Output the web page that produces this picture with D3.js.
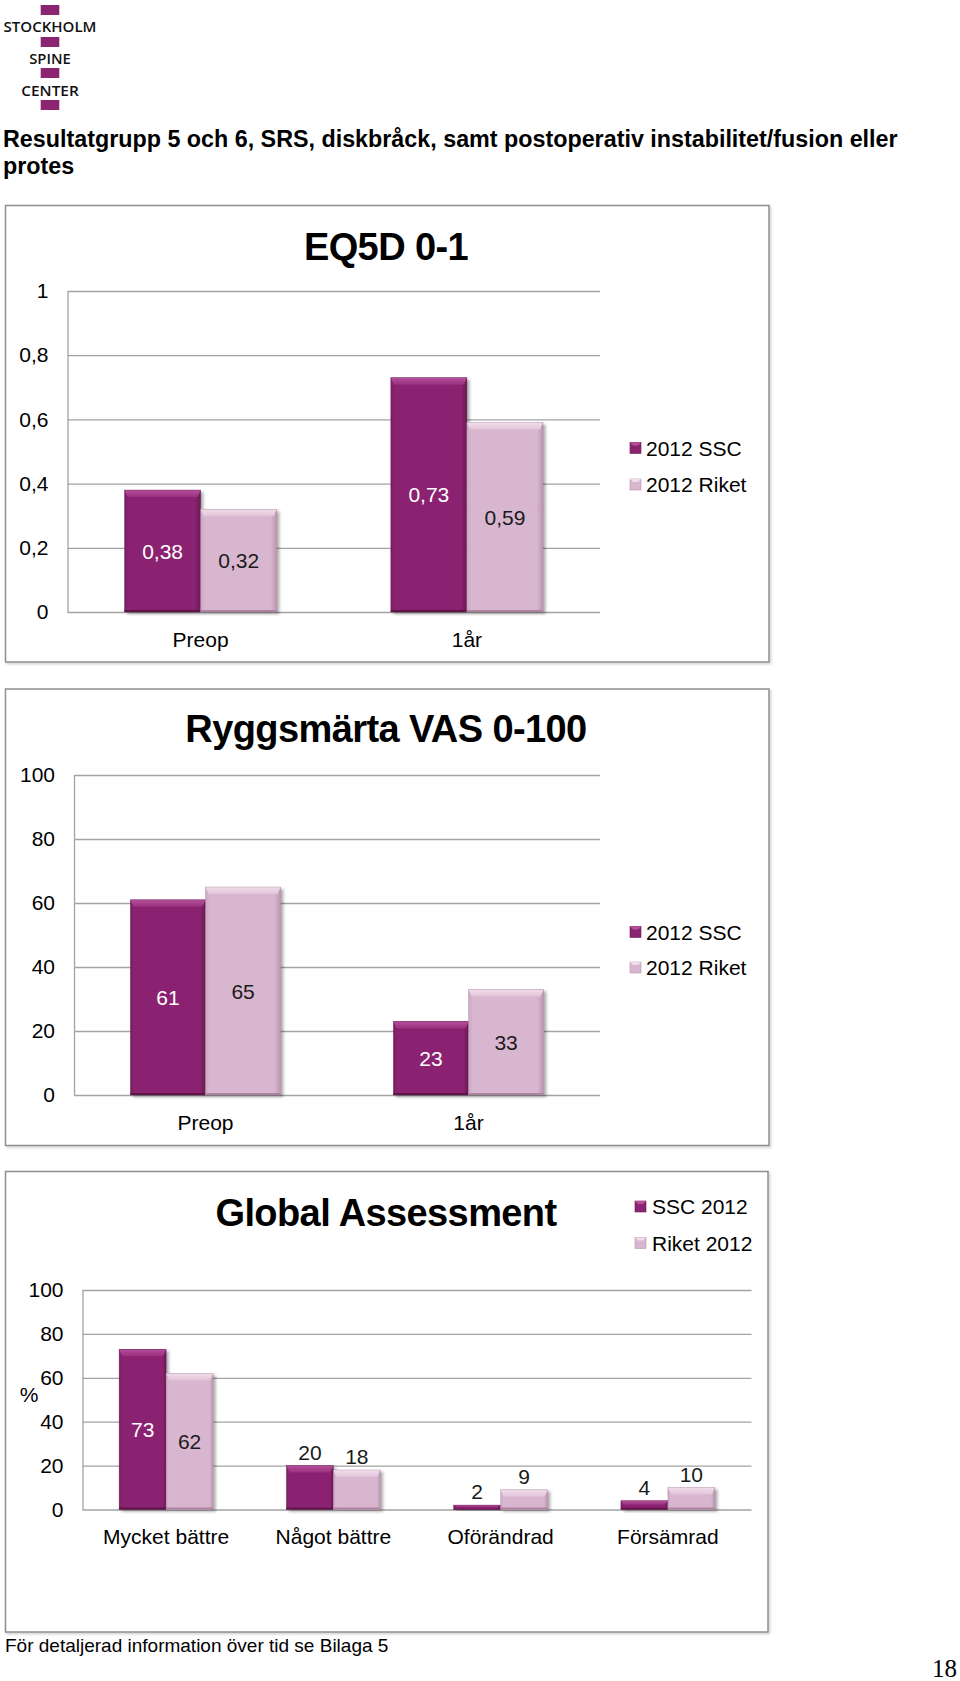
<!DOCTYPE html>
<html>
<head>
<meta charset="utf-8">
<script src="https://cdn.jsdelivr.net/npm/d3@7"></script>
<style>
  html, body { margin: 0; padding: 0; background: #fff; }
  svg { display: block; }
  text { font-family: "Liberation Sans", Arial, sans-serif; }
</style>
</head>
<body>
<svg id="page" width="960" height="1681"></svg>
<script>
// ---------- DATA ----------
const eqCategories = ["Preop", "1år"];
const eqSSC = [0.38, 0.73];
const eqRiket = [0.32, 0.59];
const eqTicks = [0, 0.2, 0.4, 0.6, 0.8, 1];

const vasCategories = ["Preop", "1år"];
const vasSSC = [61, 23];
const vasRiket = [65, 33];
const vasTicks = [0, 20, 40, 60, 80, 100];

const gaCategories = ["Mycket bättre", "Något bättre", "Oförändrad", "Försämrad"];
const gaSSC = [73, 20, 2, 4];
const gaRiket = [62, 18, 9, 10];
const gaTicks = [0, 20, 40, 60, 80, 100];

const seriesNamesA = ["2012 SSC", "2012 Riket"];
const seriesNamesB = ["SSC 2012", "Riket 2012"];

const logoWords = ["STOCKHOLM", "SPINE", "CENTER"];
const pageTitleLines = ["Resultatgrupp 5 och 6, SRS, diskbråck, samt postoperativ instabilitet/fusion eller", "protes"];
const footerText = "För detaljerad information över tid se Bilaga 5";
const pageNumber = "18";

// ---------- STYLE ----------
const COLORS = {
  ssc:   { base: "#8B2471", top: "#B5509A", topEnd: "#9A2F7E", side: "#7A1D62", right: "#691853", bottom: "#5E1449", label: "#ffffff" },
  riket: { base: "#D9B6CF", top: "#F0DDEA", topEnd: "#E2C4D9", side: "#CDA7C2", right: "#BC93B0", bottom: "#AD849F", label: "#1a1a1a" }
};
const GRID = "#a3a3a3";
const svg = d3.select("#page");

// drop shadow filter
const defs = svg.append("defs");
const f = defs.append("filter").attr("id", "shadow").attr("x", "-20%").attr("y", "-20%").attr("width", "150%").attr("height", "150%");
f.append("feDropShadow").attr("dx", 2.5).attr("dy", 2).attr("stdDeviation", 1.6).attr("flood-color", "#000").attr("flood-opacity", 0.35);
const fr = defs.append("filter").attr("id", "frameShadow").attr("x", "-5%").attr("y", "-5%").attr("width", "110%").attr("height", "110%");
fr.append("feDropShadow").attr("dx", 1.5).attr("dy", 1.5).attr("stdDeviation", 1).attr("flood-color", "#000").attr("flood-opacity", 0.18);

["ssc", "riket"].forEach(k => {
  const g = defs.append("linearGradient").attr("id", "top-" + k).attr("x1", 0).attr("y1", 0).attr("x2", 0).attr("y2", 1);
  g.append("stop").attr("offset", "0%").attr("stop-color", COLORS[k].top);
  g.append("stop").attr("offset", "100%").attr("stop-color", COLORS[k].topEnd);
  const h = defs.append("linearGradient").attr("id", "body-" + k).attr("x1", 0).attr("y1", 0).attr("x2", 1).attr("y2", 0);
  h.append("stop").attr("offset", "0%").attr("stop-color", COLORS[k].side);
  h.append("stop").attr("offset", "6%").attr("stop-color", COLORS[k].base);
  h.append("stop").attr("offset", "92%").attr("stop-color", COLORS[k].base);
  h.append("stop").attr("offset", "100%").attr("stop-color", COLORS[k].right);
});

// ---------- LOGO ----------
const logoRectY = [5, 37, 68, 100];
svg.selectAll("rect.logo").data(logoRectY).join("rect")
  .attr("class", "logo").attr("x", 40.7).attr("y", d => d).attr("width", 18.6).attr("height", 10)
  .attr("fill", "#8B2571");
const logoLayout = [{ base: 31.5, len: 93 }, { base: 63.8, len: 41.5 }, { base: 95.5, len: 57.5 }];
svg.selectAll("text.logo").data(logoWords).join("text")
  .attr("class", "logo")
  .attr("x", 50).attr("y", (d, i) => logoLayout[i].base)
  .attr("text-anchor", "middle")
  .attr("textLength", (d, i) => logoLayout[i].len).attr("lengthAdjust", "spacingAndGlyphs")
  .style("font-family", "'Open Sans', 'Noto Sans', sans-serif").style("font-weight", 600)
  .style("font-size", "15px").attr("fill", "#111")
  .text(d => d);

// ---------- PAGE TITLE ----------
svg.selectAll("text.ptitle").data(pageTitleLines).join("text")
  .attr("class", "ptitle")
  .attr("x", 3).attr("y", (d, i) => 146.5 + i * 27)
  .style("font-size", "23.3px").style("font-weight", "bold").attr("fill", "#000")
  .text(d => d);

// ---------- CHART FUNCTION ----------
function drawChart(cfg) {
  const g = svg.append("g");
  // frame
  g.append("rect")
    .attr("x", cfg.frame[0]).attr("y", cfg.frame[1])
    .attr("width", cfg.frame[2] - cfg.frame[0]).attr("height", cfg.frame[3] - cfg.frame[1])
    .attr("fill", "#fff").attr("stroke", "#8e8e8e").attr("stroke-width", 1.5)
    .attr("filter", "url(#frameShadow)");

  // title
  g.append("text")
    .attr("x", cfg.titleX).attr("y", cfg.titleY).attr("text-anchor", "middle")
    .style("font-size", "38px").style("font-weight", "bold").style("letter-spacing", "-0.6px")
    .attr("fill", "#000").text(cfg.title);

  const y = d3.scaleLinear().domain([0, cfg.max]).range([cfg.y0, cfg.y1]);
  const x = d3.scaleBand().domain(cfg.categories).range([cfg.x0, cfg.x1]).padding(0);
  const keys = ["ssc", "riket"];
  const xs = d3.scaleBand().domain(keys).range([0, x.bandwidth()]).paddingInner(0).paddingOuter(cfg.pad);

  // y axis + grid
  const yAxis = d3.axisLeft(y).tickValues(cfg.ticks)
    .tickSize(-(cfg.x1 - cfg.x0)).tickSizeOuter(0).tickPadding(19)
    .tickFormat(cfg.fmt);
  const ya = g.append("g").attr("transform", `translate(${cfg.x0},0)`).call(yAxis);
  ya.selectAll(".tick line").attr("stroke", GRID).attr("stroke-width", 1.3);
  ya.select(".domain").attr("stroke", GRID).attr("stroke-width", 1.3);
  ya.selectAll(".tick text").style("font-family", "'Liberation Sans', Arial, sans-serif")
    .style("font-size", "21px").attr("fill", "#000");

  // x axis labels
  const xAxis = d3.axisBottom(x).tickSize(0).tickPadding(20);
  const xa = g.append("g").attr("transform", `translate(0,${cfg.y0})`).call(xAxis);
  xa.select(".domain").remove();
  xa.selectAll(".tick text").style("font-family", "'Liberation Sans', Arial, sans-serif")
    .style("font-size", "21px").attr("fill", "#000");

  // bars
  const rows = [];
  cfg.categories.forEach((c, i) => {
    rows.push({ cat: c, key: "ssc", v: cfg.ssc[i] });
    rows.push({ cat: c, key: "riket", v: cfg.riket[i] });
  });
  const bars = g.selectAll("g.bar").data(rows).join("g").attr("class", "bar");
  bars.each(function (d) {
    const b = d3.select(this);
    const bx = x(d.cat) + xs(d.key);
    const bw = xs.bandwidth();
    const by = y(d.v);
    const bh = y(0) - y(d.v);
    const c = COLORS[d.key];
    b.append("rect").attr("x", bx).attr("y", by).attr("width", bw).attr("height", bh)
      .attr("fill", `url(#body-${d.key})`).attr("filter", "url(#shadow)");
    const tb = Math.min(7, bh * 0.45);
    const inset = Math.min(3, bw / 6);
    b.append("polygon")
      .attr("points", [[bx, by], [bx + bw, by], [bx + bw - inset, by + tb], [bx + inset, by + tb]].map(p => p.join(",")).join(" "))
      .attr("fill", `url(#top-${d.key})`);
    const bb = Math.min(2, bh * 0.2);
    b.append("rect").attr("x", bx).attr("y", by + bh - bb).attr("width", bw).attr("height", bb)
      .attr("fill", c.bottom);
    b.append("rect").attr("x", bx).attr("y", by).attr("width", bw).attr("height", bh)
      .attr("fill", "none").attr("stroke", c.bottom).attr("stroke-width", 0.6).attr("stroke-opacity", 0.6);
  });

  // value labels
  g.selectAll("text.val").data(rows).join("text")
    .attr("class", "val")
    .attr("x", d => x(d.cat) + xs(d.key) + xs.bandwidth() / 2)
    .attr("y", d => cfg.inside(d.v) ? (y(d.v) + y(0)) / 2 + 7.5 : y(d.v) - 6)
    .attr("text-anchor", "middle")
    .style("font-size", "21px")
    .attr("fill", d => cfg.inside(d.v) ? COLORS[d.key].label : "#1a1a1a")
    .text(d => cfg.fmt(d.v));

  // legend
  const lg = g.selectAll("g.leg").data(keys).join("g").attr("class", "leg");
  lg.append("rect")
    .attr("x", cfg.legSqX).attr("y", (d, i) => cfg.legY[i] - 13)
    .attr("width", 11).attr("height", 11)
    .attr("fill", d => COLORS[d].base).attr("stroke", d => COLORS[d].right).attr("stroke-width", 0.6);
  lg.append("polygon")
    .attr("points", (d, i) => {
      const x0 = cfg.legSqX, y0 = cfg.legY[i] - 13;
      return [[x0, y0], [x0 + 11, y0], [x0 + 8, y0 + 3], [x0 + 3, y0 + 3]].map(p => p.join(",")).join(" ");
    })
    .attr("fill", d => COLORS[d].top);
  lg.append("text")
    .attr("x", cfg.legTextX).attr("y", (d, i) => cfg.legY[i])
    .style("font-size", "21px").attr("fill", "#000")
    .text((d, i) => cfg.names[i]);

  if (cfg.yLabel) {
    g.append("text").attr("x", cfg.yLabel.x).attr("y", cfg.yLabel.y)
      .attr("text-anchor", "middle").style("font-size", "21px").attr("fill", "#000")
      .text(cfg.yLabel.text);
  }
}

const commaFmt = v => String(v).replace(".", ",");

drawChart({
  frame: [5.5, 205.5, 769, 662], title: "EQ5D 0-1", titleX: 386, titleY: 259.5,
  categories: eqCategories, ssc: eqSSC, riket: eqRiket, ticks: eqTicks, max: 1,
  x0: 67.5, x1: 600, y0: 612, y1: 291, pad: 0.75, fmt: commaFmt,
  inside: v => true,
  legSqX: 630, legTextX: 646, legY: [455.5, 492], names: seriesNamesA
});

drawChart({
  frame: [5.5, 689, 769, 1145.5], title: "Ryggsmärta VAS 0-100", titleX: 386, titleY: 742,
  categories: vasCategories, ssc: vasSSC, riket: vasRiket, ticks: vasTicks, max: 100,
  x0: 74, x1: 600, y0: 1095, y1: 775, pad: 0.75, fmt: commaFmt,
  inside: v => true,
  legSqX: 630, legTextX: 646, legY: [939.5, 975], names: seriesNamesA
});

drawChart({
  frame: [5.5, 1171.5, 768, 1632], title: "Global Assessment", titleX: 386, titleY: 1226,
  categories: gaCategories, ssc: gaSSC, riket: gaRiket, ticks: gaTicks, max: 100,
  x0: 82.5, x1: 751.5, y0: 1509.5, y1: 1290, pad: 0.78, fmt: commaFmt,
  inside: v => v > 50,
  legSqX: 635, legTextX: 652, legY: [1214, 1250.5], names: seriesNamesB,
  yLabel: { text: "%", x: 29, y: 1402 }
});

// ---------- FOOTER ----------
svg.append("text").attr("x", 5).attr("y", 1651.5)
  .style("font-size", "19px").attr("fill", "#000").text(footerText);
svg.append("text").attr("x", 932).attr("y", 1677)
  .style("font-family", "'Liberation Serif', 'DejaVu Serif', serif")
  .style("font-size", "25px").attr("fill", "#000").text(pageNumber);
</script>
</body>
</html>
